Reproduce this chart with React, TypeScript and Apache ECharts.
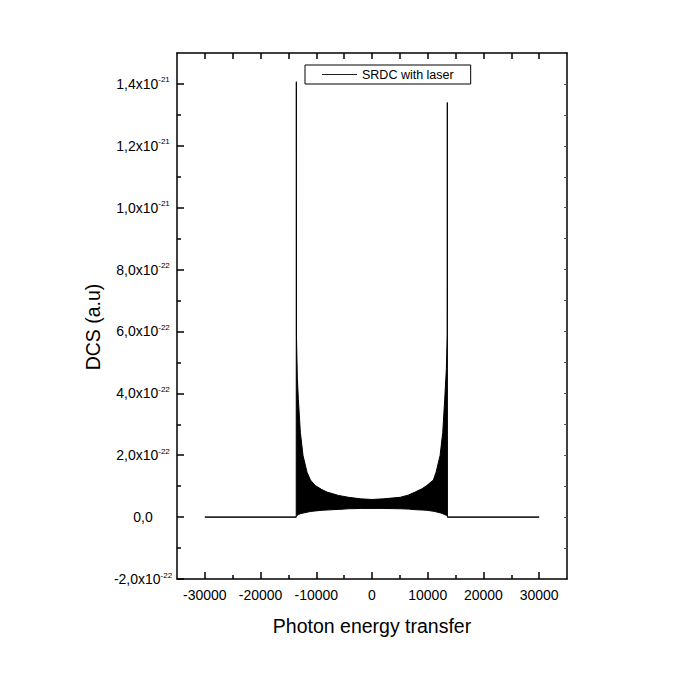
import React, { useEffect, useRef } from "react";
import * as echarts from "echarts";

// DCS values below are expressed in units of 1e-22 (a.u)
const Y_UNIT_EXP = -22;
const energy = [
  -30000, -13600, -13580, -13560, -13400, -13220, -12860, -12380, -11660, -11060, -10170, -9000, -8080, -6000, -4200, -2000, 0,
  2000, 5050, 6500, 7740, 9000, 9830, 11020, 11500, 12220, 12700, 13050, 13350, 13500, 13520, 13540, 30000,
];
const upperEnvelope = [
  0, 0, 14.07, 5.9, 4.5, 3.81, 2.74, 1.99, 1.45, 1.2, 1.02, 0.89, 0.81, 0.7, 0.64, 0.59, 0.57,
  0.59, 0.64, 0.71, 0.81, 0.92, 1.02, 1.2, 1.45, 1.99, 2.74, 3.81, 4.8, 5.9, 13.4, 0, 0,
];
const lowerEnvelope = [
  0, 0, 0.02, 0.03, 0.06, 0.08, 0.11, 0.13, 0.16, 0.18, 0.2, 0.22, 0.23, 0.25, 0.27, 0.28, 0.28,
  0.28, 0.27, 0.26, 0.24, 0.23, 0.22, 0.19, 0.17, 0.14, 0.11, 0.08, 0.06, 0.03, 0.02, 0, 0,
];
const xMajorTicks = [-30000, -20000, -10000, 0, 10000, 20000, 30000];
const xMinorTicks = [-25000, -15000, -5000, 5000, 15000, 25000];
const xTopTicks = [-30000, -25000, -20000, -15000, -10000, -5000, 0, 5000, 10000, 15000, 20000, 25000, 30000];
const yMajorTicks = [-2, 0, 2, 4, 6, 8, 10, 12, 14];
const yMinorTicks = [-1, 1, 3, 5, 7, 9, 11, 13];
const yAllTicks = [-1, 0, 1, 2, 3, 4, 5, 6, 7, 8, 9, 10, 11, 12, 13, 14];

const FONT = "'Liberation Sans', Arial, Helvetica, sans-serif";

const fmtY = (v: number) => {
  if (Math.abs(v) < 1e-9) return "{m|0,0}";
  const big = Math.abs(v) >= 10;
  const e = big ? Y_UNIT_EXP + 1 : Y_UNIT_EXP;
  const m = big ? v / 10 : v;
  return `{m|${m.toFixed(1).replace(".", ",")}x10}{s|${e}}`;
};

export default function App() {
  const ref = useRef<HTMLDivElement>(null);
  useEffect(() => {
    if (!ref.current) return;
    const chart = echarts.init(ref.current, null, { renderer: "svg" });
    const upper = energy.map((x, i) => [x, upperEnvelope[i]]);
    const lower = energy.map((x, i) => [x, lowerEnvelope[i]]);
    const axisLine = { show: true, onZero: false, lineStyle: { color: "#000", width: 1.5 } };
    const noLine = { show: false, onZero: false };
    chart.setOption({
      animation: false,
      backgroundColor: "#fff",
      textStyle: { fontFamily: FONT },
      grid: { left: 177, right: 125, top: 53, bottom: 113, containLabel: false },
      legend: {
        data: [{ name: "SRDC with laser", icon: "rect" }],
        left: 305,
        top: 65,
        padding: [3, 17, 3, 17],
        itemWidth: 35,
        itemHeight: 1,
        borderColor: "#000",
        borderWidth: 1,
        borderRadius: 0,
        textStyle: { fontSize: 12.5, color: "#000", fontFamily: FONT },
      },
      xAxis: [
        {
          type: "value",
          min: -35000,
          max: 35000,
          position: "bottom",
          axisLine,
          splitLine: { show: false },
          axisTick: { show: true, inside: true, length: 7, customValues: xMajorTicks, lineStyle: { color: "#000", width: 1.5 } },
          axisLabel: {
            customValues: xMajorTicks,
            formatter: (v: number) => String(v),
            fontSize: 14,
            color: "#000",
            margin: 9,
            fontFamily: FONT,
          },
          name: "Photon energy transfer",
          nameLocation: "middle",
          nameGap: 37,
          nameTextStyle: { fontSize: 19.5, color: "#000", fontFamily: FONT },
        },
        {
          type: "value",
          min: -35000,
          max: 35000,
          position: "bottom",
          axisLine: noLine,
          splitLine: { show: false },
          axisTick: { show: true, inside: true, length: 4, customValues: xMinorTicks, lineStyle: { color: "#000", width: 1.5 } },
          axisLabel: { show: false },
        },
        {
          type: "value",
          min: -35000,
          max: 35000,
          position: "top",
          axisLine,
          splitLine: { show: false },
          axisTick: { show: true, inside: true, length: 6, customValues: xTopTicks, lineStyle: { color: "#000", width: 1.5 } },
          axisLabel: { show: false },
        },
      ],
      yAxis: [
        {
          type: "value",
          min: -2,
          max: 15,
          position: "left",
          axisLine,
          splitLine: { show: false },
          axisTick: { show: true, inside: true, length: 7, customValues: yMajorTicks, lineStyle: { color: "#000", width: 1.5 } },
          axisLabel: {
            customValues: yMajorTicks,
            formatter: fmtY,
            align: "center",
            margin: 34,
            rich: {
              m: { fontSize: 14, color: "#000", fontFamily: FONT, lineHeight: 16 },
              s: { fontSize: 8, color: "#000", fontFamily: FONT, lineHeight: 10, verticalAlign: "top" },
            },
          },
          name: "DCS (a.u)",
          nameLocation: "middle",
          nameGap: 68,
          nameTextStyle: { fontSize: 19.5, color: "#000", fontFamily: FONT, padding: [0, 22, 0, 0] },
        },
        {
          type: "value",
          min: -2,
          max: 15,
          position: "left",
          axisLine: noLine,
          splitLine: { show: false },
          axisTick: { show: true, inside: true, length: 4, customValues: yMinorTicks, lineStyle: { color: "#000", width: 1.5 } },
          axisLabel: { show: false },
        },
        {
          type: "value",
          min: -2,
          max: 15,
          position: "right",
          axisLine,
          splitLine: { show: false },
          axisTick: { show: true, inside: true, length: 3, customValues: yAllTicks, lineStyle: { color: "#555", width: 1 } },
          axisLabel: { show: false },
        },
      ],
      series: [
        {
          name: "SRDC with laser",
          type: "line",
          xAxisIndex: 0,
          yAxisIndex: 0,
          data: upper,
          showSymbol: false,
          symbol: "none",
          color: "#222",
          lineStyle: { color: "#000", width: 1 },
          areaStyle: { color: "#000", opacity: 1, origin: 0 },
          z: 2,
        },
        {
          name: "lower",
          type: "line",
          xAxisIndex: 0,
          yAxisIndex: 0,
          data: lower,
          showSymbol: false,
          symbol: "none",
          color: "#000",
          lineStyle: { color: "#000", width: 1 },
          areaStyle: { color: "#fff", opacity: 1, origin: 0 },
          z: 3,
        },
      ],
    });
    return () => chart.dispose();
  }, []);
  return <div ref={ref} style={{ position: "absolute", left: 0, top: 0, width: 692, height: 692 }} />;
}
